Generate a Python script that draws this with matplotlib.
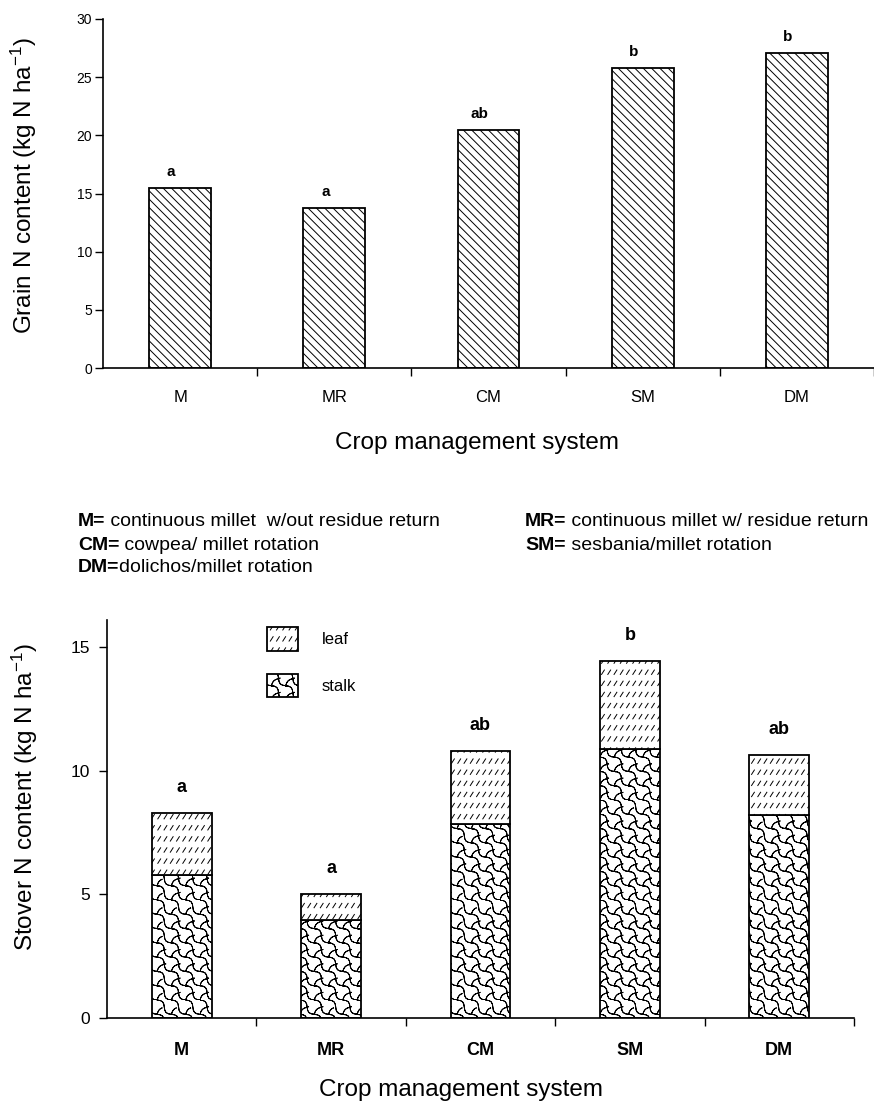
import warnings
import numpy as np
import matplotlib
matplotlib.use('Agg')
import matplotlib.pyplot as plt
from matplotlib import hatch as mhatch
from matplotlib.path import Path

warnings.filterwarnings('ignore')

systems = ['M', 'MR', 'CM', 'SM', 'DM']
grain_n = [15.5, 13.75, 20.45, 25.8, 27.1]
grain_letters = ['a', 'a', 'ab', 'b', 'b']
stalk_n = [5.8, 3.95, 7.85, 10.9, 8.2]
leaf_n = [2.5, 1.05, 2.95, 3.55, 2.45]
stover_letters = ['a', 'a', 'ab', 'b', 'ab']

key_left = [('M=', ' continuous millet  w/out residue return'),
            ('CM=', ' cowpea/ millet rotation'),
            ('DM=', 'dolichos/millet rotation')]
key_right = [('MR=', ' continuous millet w/ residue return'),
             ('SM=', ' sesbania/millet rotation')]

plt.rcParams['font.family'] = ['Liberation Sans', 'DejaVu Sans']
plt.rcParams['mathtext.fontset'] = 'custom'
plt.rcParams['mathtext.rm'] = 'Liberation Sans'
plt.rcParams['mathtext.it'] = 'Liberation Sans:italic'
plt.rcParams['mathtext.bf'] = 'Liberation Sans:bold'
plt.rcParams['hatch.linewidth'] = 0.7


class LeafDashes(mhatch.HatchPatternBase):
    # rows of short slanted strokes ('L')
    def __init__(self, hatch, density):
        n = hatch.count('L')
        self.rows = 9 * n
        self.cols = 16 * n
        self.num_vertices = 2 * self.rows * self.cols

    def set_vertices_and_codes(self, vertices, codes):
        k = 0
        for r in range(self.rows):
            yc = (r + 0.5) / self.rows
            for c in range(self.cols):
                x0 = (c + 0.25) / self.cols
                vertices[k] = (x0, yc - 0.022)
                vertices[k + 1] = (x0 + 0.028, yc + 0.022)
                codes[k] = Path.MOVETO
                codes[k + 1] = Path.LINETO
                k += 2


class StalkScales(mhatch.HatchPatternBase):
    # wavy falling strokes joined by short curved links ('S'); every stroke
    # is retraced so agg does not fill the area under the curve
    steps = 9

    def __init__(self, hatch, density):
        n = hatch.count('S')
        self.cells = 7 * n
        self.num_vertices = 2 * self.cells ** 2 * (2 * self.steps - 1)

    def set_vertices_and_codes(self, vertices, codes):
        s = 1.0 / self.cells
        t = np.linspace(0, 1, self.steps)
        wob = 0.18 * s * np.sin(2 * np.pi * t) / np.sqrt(2)
        bow = 0.12 * s * np.sin(np.pi * t) / np.sqrt(2)
        n = 2 * self.steps - 1
        k = 0
        for i in range(self.cells):
            for j in range(self.cells):
                x0, y0 = i * s, j * s
                falling = np.column_stack([x0 + t * s + wob,
                                           y0 + s - t * s + wob])
                # link from the lower-left corner up to the cell centre
                link = np.column_stack([x0 + 0.5 * t * s - bow,
                                        y0 + 0.5 * t * s + bow])
                for stroke in (falling, link):
                    pts = np.vstack([stroke, stroke[-2::-1]])
                    vertices[k:k + n] = pts
                    codes[k] = Path.MOVETO
                    codes[k + 1:k + n] = Path.LINETO
                    k += n


mhatch._hatch_types.extend([LeafDashes, StalkScales])

W, H = 874, 1102
fig = plt.figure(figsize=(W / 100, H / 100), dpi=100)
x = np.arange(len(systems))


def style_axis(ax, tick_size):
    ax.spines[['top', 'right']].set_visible(False)
    ax.spines[['left', 'bottom']].set_linewidth(1.2)
    ax.set_xticks(x)
    ax.set_xticks(np.arange(0.5, len(systems), 1), minor=True)
    ax.tick_params(axis='x', which='major', length=0)
    ax.tick_params(axis='x', which='minor', length=6, width=1, direction='out')
    ax.tick_params(axis='y', length=6, width=1, direction='out',
                   labelsize=tick_size)


# grain N
ax1 = fig.add_axes([103 / W, 1 - 368 / H, (W - 103) / W, 349 / H])
ax1.bar(x, grain_n, width=0.4, color='white', edgecolor='black',
        linewidth=1.3, hatch='\\\\\\\\')
ax1.set_xlim(-0.5, 4.445)
ax1.set_ylim(0, 30)
ax1.set_yticks(np.arange(0, 31, 5))
style_axis(ax1, 10)
ax1.set_xticklabels(systems, fontsize=12)
ax1.tick_params(axis='x', which='major', pad=16)
ax1.tick_params(axis='y', pad=2)
for i, (v, s) in enumerate(zip(grain_n, grain_letters)):
    ax1.annotate(s, (i, v), xytext=(-9, 12), textcoords='offset pixels',
                 ha='center', va='baseline', fontsize=11, fontweight='bold')
ax1.set_ylabel('Grain N content (kg N ha$^{-1}$)', fontsize=17.5)
ax1.yaxis.set_label_coords(-0.083, 0.524)
fig.text(477 / W, 1 - 443 / H, 'Crop management system', fontsize=17.5,
         ha='center', va='center')

# key to the system codes
renderer = fig.canvas.get_renderer()


def key_line(x0, y0, code, desc):
    t = fig.text(x0 / W, 1 - y0 / H, code, fontsize=14, fontweight='bold',
                 va='center')
    bb = t.get_window_extent(renderer)
    fig.text(bb.x1 / W, 1 - y0 / H, desc, fontsize=14, va='center')


for row, (code, desc) in enumerate(key_left):
    key_line(78, 522 + row * 23, code, desc)
for row, (code, desc) in enumerate(key_right):
    key_line(525, 522 + row * 23, code, desc)

# stover N, stalk + leaf
ax2 = fig.add_axes([107 / W, 1 - 1018 / H, 747 / W, 398 / H])
stalk_bars = ax2.bar(x, stalk_n, width=0.4, color='white', edgecolor='black',
                     linewidth=1.3, hatch='S')
leaf_bars = ax2.bar(x, leaf_n, width=0.4, bottom=stalk_n, color='white',
                    edgecolor='black', linewidth=1.3, hatch='L')
ax2.set_xlim(-0.5, 4.5)
ax2.set_ylim(0, 16.1)
ax2.set_yticks([0, 5, 10, 15])
style_axis(ax2, 12.5)
ax2.set_xticklabels(systems, fontsize=13, fontweight='bold')
ax2.tick_params(axis='x', which='major', pad=17)
ax2.tick_params(axis='y', pad=6)
totals = np.add(stalk_n, leaf_n)
for i, (v, s) in enumerate(zip(totals, stover_letters)):
    ax2.annotate(s, (i, v), xytext=(0, 21), textcoords='offset pixels',
                 ha='center', va='baseline', fontsize=13, fontweight='bold')
ax2.set_ylabel('Stover N content (kg N ha$^{-1}$)', fontsize=17.5)
ax2.yaxis.set_label_coords(-0.090, 0.555)
fig.text(461 / W, 1 - 1090 / H, 'Crop management system', fontsize=17.5,
         ha='center', va='center')
ax2.legend([leaf_bars[0], stalk_bars[0]], ['leaf', 'stalk'], loc='upper left',
           bbox_to_anchor=(267 / W, 1 - 627 / H), bbox_transform=fig.transFigure,
           frameon=False, fontsize=12, handlelength=1.85, handleheight=1.8,
           handletextpad=1.45, labelspacing=1.38, borderpad=0, borderaxespad=0)

fig.savefig('out.png', dpi=100)
